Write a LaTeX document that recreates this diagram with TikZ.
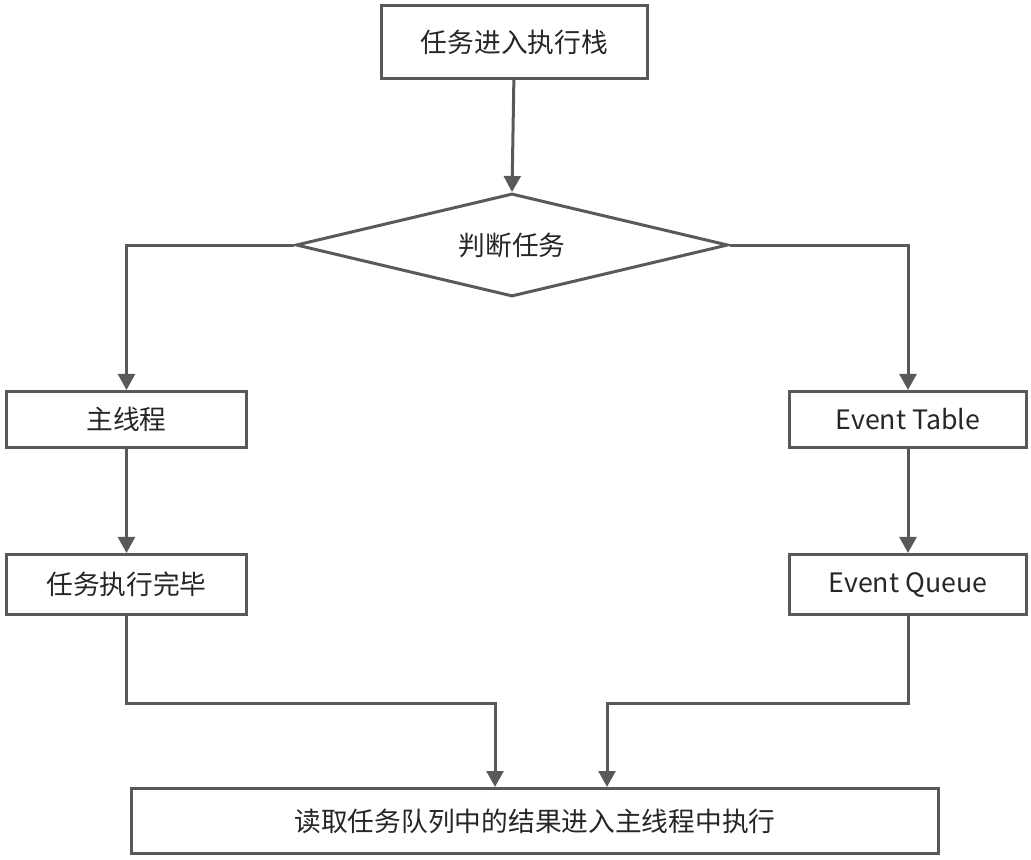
\documentclass[tikz,border=0pt]{standalone}
\usepackage{fontspec}
\setmainfont{Noto Sans CJK SC}
\usetikzlibrary{shapes.geometric,arrows.meta}
\definecolor{linegray}{HTML}{595959}
\definecolor{textgray}{HTML}{262626}
\tikzset{
	stepbox/.style={draw=linegray,line width=0.075cm,inner sep=0pt,text=textgray,
		font=\fontsize{19}{23}\selectfont},
	choice/.style={stepbox,diamond,aspect=4,minimum width=10.8cm,minimum height=2.575cm},
	flow/.style={draw=linegray,line width=0.075cm,-{Triangle[width=0.42cm,length=0.4cm]}},
	link/.style={draw=linegray,line width=0.075cm}
}
\begin{document}
\begin{tikzpicture}[x=0.025cm,y=-0.025cm]
		\useasboundingbox (0,0) rectangle (1031,860);
		\node[stepbox,minimum width=6.65cm,minimum height=1.825cm] (start) at (514.5,42) {任务进入执行栈};
		\node[choice] (judge) at (512,245) {判断任务};
		\node[stepbox,minimum width=6cm,minimum height=1.4cm] (main) at (126.5,419.5) {主线程};
		\node[stepbox,minimum width=6cm,minimum height=1.5cm] (done) at (126.5,584.5) {任务执行完毕};
		\node[stepbox,minimum width=5.925cm,minimum height=1.4cm] (table) at (908,419.5) {Event Table};
		\node[stepbox,minimum width=5.925cm,minimum height=1.5cm] (queue) at (908,584.5) {Event Queue};
		\node[stepbox,minimum width=20.175cm,minimum height=1.625cm] (result) at (535,821) {读取任务队列中的结果进入主线程中执行};
		\coordinate (inL) at (495,787);
		\coordinate (inR) at (607,787);
		\draw[flow] (start) -- (judge.north);
		\draw[flow] (judge.west) -| (main.north);
		\draw[flow] (judge.east) -| (table.north);
		\draw[flow] (main) -- (done);
		\draw[flow] (table) -- (queue);
		\draw[flow] (done.south) -- ++(0,87) -| (inL);
		\draw[flow] (queue.south) -- ++(0,87) -| (inR);
		\end{tikzpicture}
\end{document}
